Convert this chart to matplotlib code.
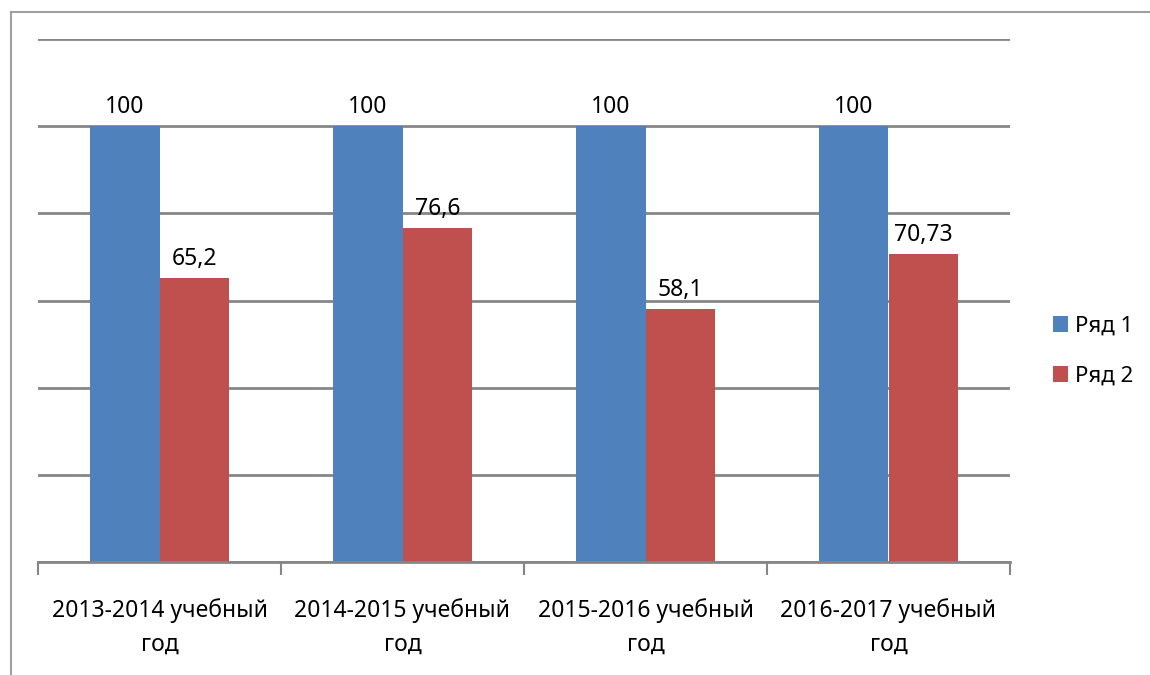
import matplotlib.pyplot as plt
import numpy as np
from matplotlib.lines import Line2D

plt.rcParams['font.family'] = ['Noto Sans', 'DejaVu Sans']

categories = ['2013-2014 учебный\nгод', '2014-2015 учебный\nгод',
              '2015-2016 учебный\nгод', '2016-2017 учебный\nгод']
series1 = [100, 100, 100, 100]
series2 = [65.2, 76.6, 58.1, 70.73]
labels1 = ['100', '100', '100', '100']
labels2 = ['65,2', '76,6', '58,1', '70,73']

blue = '#4f81bd'
red = '#c0504d'
grid = '#868686'

fig = plt.figure(figsize=(11.5, 6.75), dpi=100)
# outer chart frame (only left and top edges are visible)
fx, fy = 10.5 / 1150, 1 - 11.5 / 675
fig.add_artist(Line2D([fx, fx], [0, fy], transform=fig.transFigure,
                      color='#a0a0a0', linewidth=1.5))
fig.add_artist(Line2D([fx, 1], [fy, fy], transform=fig.transFigure,
                      color='#a0a0a0', linewidth=1.5))

ax = fig.add_axes([38 / 1150, 113 / 675, 972 / 1150, 523 / 675])
x = np.arange(len(categories))
w = 0.288
b1 = ax.bar(x - w / 2, series1, w, color=blue, label='Ряд 1', zorder=2)
b2 = ax.bar(x + w / 2, series2, w, color=red, label='Ряд 2', zorder=2)

for bars, labs in [(b1, labels1), (b2, labels2)]:
    for r, t in zip(bars, labs):
        ax.annotate(t, (r.get_x() + r.get_width() / 2, r.get_height()),
                    xytext=(0, 5), textcoords='offset points',
                    ha='center', va='bottom', fontsize=16.5)

ax.set_xlim(-0.5, 3.5)
ax.set_ylim(0, 120)
ax.set_yticks(np.arange(0, 121, 20))
ax.yaxis.grid(True, color=grid, linewidth=2)
ax.tick_params(axis='y', length=0, labelleft=False)
for s in ['left', 'right', 'top']:
    ax.spines[s].set_visible(False)
ax.spines['bottom'].set_color(grid)
ax.spines['bottom'].set_linewidth(2)
ax.spines['bottom'].set_zorder(3)

ax.set_xticks(np.arange(-0.5, 3.6, 1))
ax.set_xticklabels([])
ax.tick_params(axis='x', length=9, width=1.5, color=grid, direction='out')
ax.set_xticks(x, minor=True)
ax.set_xticklabels(categories, minor=True, fontsize=16.5, linespacing=1.55)
ax.tick_params(axis='x', which='minor', length=0, pad=26)

ax.legend(loc='center left', bbox_to_anchor=(1.044, 0.403), frameon=False,
          fontsize=16, handlelength=0.68, handleheight=0.68, handletextpad=0.3,
          labelspacing=1.3, borderpad=0, borderaxespad=0)

fig.savefig('out.png', dpi=100)
